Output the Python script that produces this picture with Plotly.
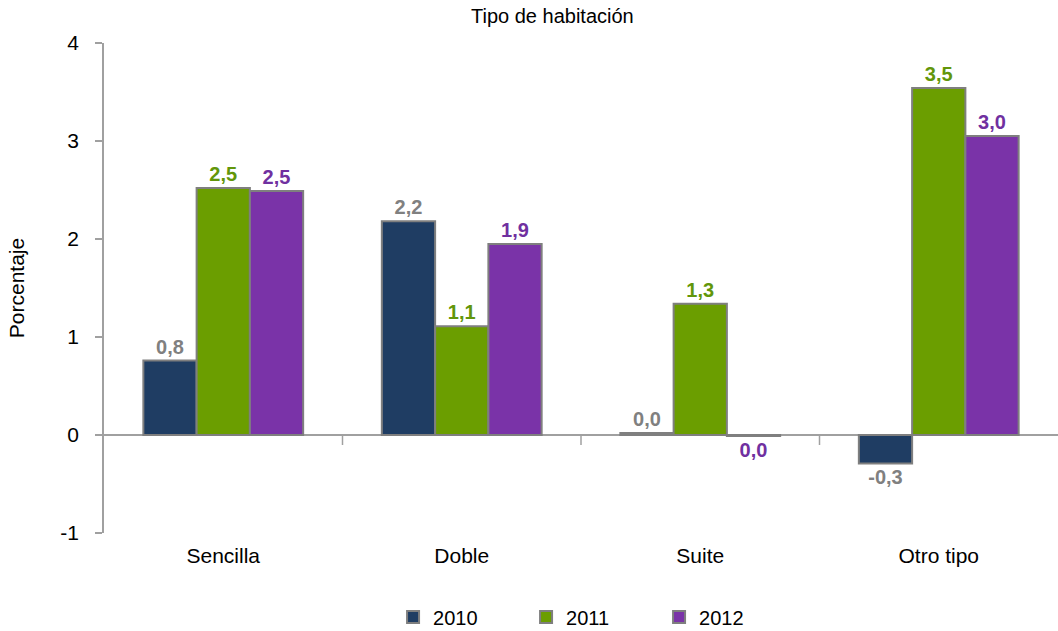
import plotly.graph_objects as go

categories = ["Sencilla", "Doble", "Suite", "Otro tipo"]
years = ["2010", "2011", "2012"]
v2010 = [0.76, 2.18, 0.02, -0.29]
v2011 = [2.52, 1.11, 1.34, 3.54]
v2012 = [2.49, 1.95, -0.01, 3.05]
y_ticks = [-1, 0, 1, 2, 3, 4]

bar_colors = ["#1f3d63", "#6b9e00", "#7a33a8"]
label_colors = ["#808080", "#62960a", "#7030a0"]
FONT = "Liberation Sans, Arial, sans-serif"


def fmt(v):
    r = round(v, 1)
    if r == 0:
        return "0,0"
    return f"{r:.1f}".replace(".", ",")


fig = go.Figure()
for name, vals, bc, lc in zip(years, [v2010, v2011, v2012], bar_colors, label_colors):
    fig.add_trace(go.Bar(
        x=categories, y=vals, name=name,
        marker=dict(color=bc, line=dict(color="#7f7f7f", width=2)),
        text=[fmt(v) for v in vals], textposition="outside",
        textfont=dict(color=lc, size=20, family=FONT, weight="bold"),
        cliponaxis=False,
    ))

# category separator ticks on the zero line
for b in [0.5, 1.5, 2.5]:
    fig.add_shape(type="line", xref="x", yref="y", x0=b, x1=b,
                  ysizemode="pixel", yanchor=0, y0=0, y1=-10,
                  line=dict(color="#a0a0a0", width=1.5))

fig.update_layout(
    width=1058, height=631,
    margin=dict(l=104, r=0, t=43, b=98),
    paper_bgcolor="white", plot_bgcolor="white",
    font=dict(family=FONT, size=21, color="#000000"),
    title=dict(text="Tipo de habitación", x=0.47, xref="paper", xanchor="center",
               y=0.975, yref="container", yanchor="middle", font=dict(size=20, family=FONT)),
    barmode="group", bargap=0.33, bargroupgap=0,
    showlegend=True,
    legend=dict(orientation="h", x=0.303, xanchor="left", xref="paper",
                y=0.022, yanchor="middle", yref="container",
                entrywidth=88, entrywidthmode="pixels", itemwidth=30,
                font=dict(size=20, family=FONT), traceorder="normal"),
)
fig.update_xaxes(showline=False, ticks="", showgrid=False, ticklabelstandoff=8,
                 tickfont=dict(size=21, family=FONT))
fig.update_yaxes(range=[-1, 4], tickvals=y_ticks, ticktext=[str(t) for t in y_ticks],
                 showgrid=False, showline=True, linecolor="#a0a0a0", linewidth=1.5,
                 ticks="outside", ticklen=7, tickcolor="#a0a0a0", tickwidth=1.5,
                 ticklabelstandoff=12,
                 zeroline=True, zerolinecolor="#a0a0a0", zerolinewidth=2,
                 title=dict(text="Porcentaje", standoff=30, font=dict(size=21, family=FONT)),
                 tickfont=dict(size=21, family=FONT))

fig.write_html("out.html", config={"displayModeBar": False},
               post_script="document.body.style.margin='0';")
